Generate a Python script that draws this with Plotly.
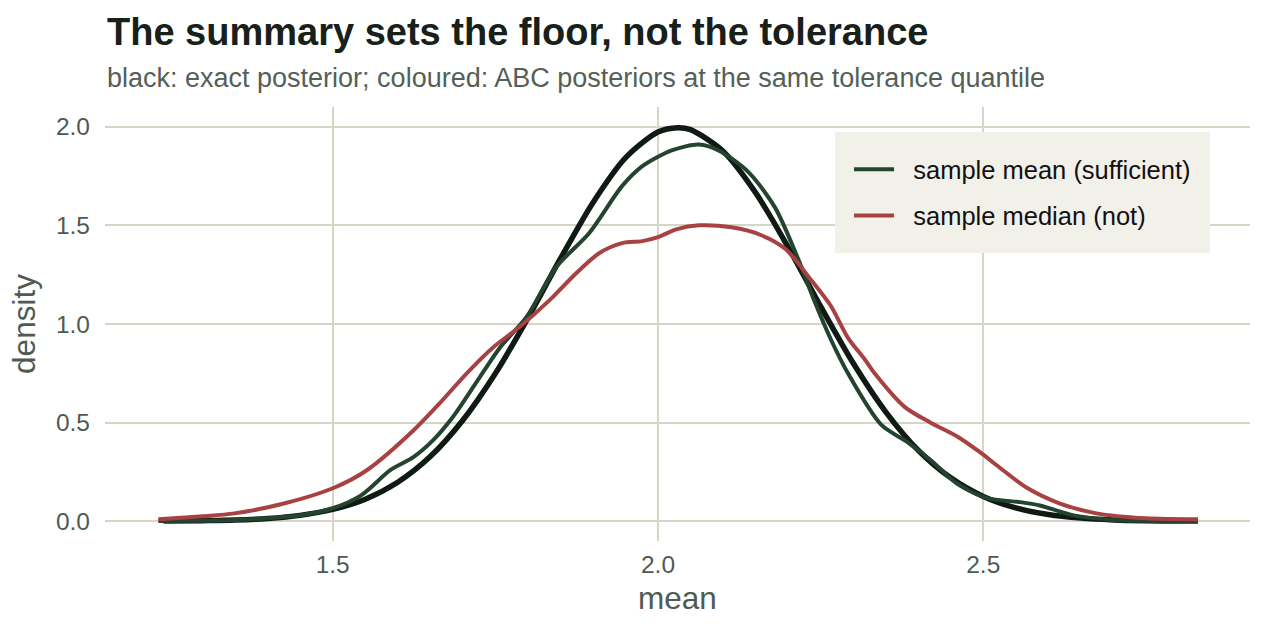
import plotly.graph_objects as go

# Exact posterior (black)
exact_x = [1.24, 1.30, 1.35, 1.40, 1.45, 1.50, 1.55, 1.60, 1.65, 1.70, 1.75, 1.80, 1.85, 1.90,
           1.95, 2.00, 2.03, 2.05, 2.10, 2.15, 2.20, 2.25, 2.30, 2.35, 2.40, 2.45, 2.50, 2.55,
           2.60, 2.65, 2.70, 2.75, 2.80, 2.83]
exact_y = [0.001, 0.003, 0.006, 0.014, 0.030, 0.060, 0.112, 0.198, 0.328, 0.512, 0.749, 1.030,
           1.331, 1.615, 1.842, 1.973, 1.995, 1.985, 1.876, 1.666, 1.390, 1.089, 0.802, 0.555,
           0.360, 0.220, 0.126, 0.068, 0.034, 0.016, 0.007, 0.003, 0.001, 0.001]

# ABC with sample mean (green)
mean_x = [1.232, 1.30, 1.35, 1.40, 1.45, 1.50, 1.543, 1.589, 1.624, 1.654, 1.685, 1.72, 1.757,
          1.798, 1.844, 1.894, 1.945, 1.976, 2.021, 2.063, 2.093, 2.139, 2.18, 2.216, 2.24,
          2.266, 2.292, 2.343, 2.384, 2.419, 2.46, 2.506, 2.557, 2.587, 2.639, 2.70, 2.76, 2.83]
mean_y = [0.001, 0.003, 0.007, 0.015, 0.030, 0.066, 0.13, 0.26, 0.325, 0.41, 0.53, 0.70, 0.88,
          1.036, 1.29, 1.46, 1.70, 1.80, 1.88, 1.91, 1.88, 1.77, 1.59, 1.325, 1.12,
          0.92, 0.75, 0.49, 0.40, 0.31, 0.19, 0.117, 0.097, 0.08, 0.03, 0.007, 0.002, 0.001]

# ABC with sample median (red)
median_x = [1.232, 1.30, 1.349, 1.425, 1.502, 1.553, 1.624, 1.665, 1.706, 1.746, 1.787, 1.833,
            1.875, 1.91, 1.945, 1.976, 2.0, 2.028, 2.063, 2.113, 2.159, 2.196, 2.236, 2.266,
            2.292, 2.318, 2.333, 2.379, 2.419, 2.46, 2.495, 2.526, 2.567, 2.618, 2.674, 2.75, 2.83]
median_y = [0.01, 0.025, 0.04, 0.09, 0.17, 0.26, 0.46, 0.60, 0.75, 0.88, 0.985, 1.12,
            1.26, 1.36, 1.41, 1.42, 1.44, 1.48, 1.50, 1.49, 1.45, 1.38, 1.22, 1.09,
            0.93, 0.82, 0.75, 0.58, 0.50, 0.43, 0.35, 0.27, 0.17, 0.09, 0.04, 0.015, 0.01]

x_ticks = [1.5, 2.0, 2.5]
x_tick_labels = ["1.5", "2.0", "2.5"]
y_ticks = [0.0, 0.5, 1.0, 1.5, 2.0]
y_tick_labels = ["0.0", "0.5", "1.0", "1.5", "2.0"]

FONT = "Liberation Sans, Arial, Helvetica, sans-serif"
GRID = "#d6d6c6"
TXT = "#4f5a52"

fig = go.Figure()
fig.add_trace(go.Scatter(x=exact_x, y=exact_y, mode="lines", name="exact posterior",
                         line=dict(color="#101a15", width=5.5, shape="spline", smoothing=0.8),
                         showlegend=False))
fig.add_trace(go.Scatter(x=mean_x, y=mean_y, mode="lines", name="  sample mean (sufficient)",
                         line=dict(color="#23442f", width=4, shape="spline", smoothing=0.8),
                         legendgroup="a"))
fig.add_trace(go.Scatter(x=median_x, y=median_y, mode="lines", name="  sample median (not)",
                         line=dict(color="#a84242", width=4, shape="spline", smoothing=0.8),
                         legendgroup="b"))

fig.update_layout(
    width=1267, height=633,
    margin=dict(l=105, r=17, t=107, b=92),
    paper_bgcolor="white", plot_bgcolor="white",
    font=dict(family=FONT, color=TXT),
    xaxis=dict(range=[1.15, 2.91], tickvals=x_ticks, ticktext=x_tick_labels,
               showgrid=True, gridcolor=GRID, gridwidth=1.5, zeroline=False,
               showline=False, ticks="", tickfont=dict(size=24.5, color=TXT),
               ticklabelstandoff=6,
               title=dict(text="mean", font=dict(size=31.5, color=TXT), standoff=10)),
    yaxis=dict(range=[-0.1, 2.1], tickvals=y_ticks, ticktext=y_tick_labels,
               showgrid=True, gridcolor=GRID, gridwidth=1.5, zeroline=False,
               showline=False, ticks="", tickfont=dict(size=24.5, color=TXT),
               ticklabelstandoff=14,
               title=dict(text="density", font=dict(size=31.5, color=TXT), standoff=10)),
    legend=dict(x=0.6376, y=0.942, xanchor="left", yanchor="top",
                bgcolor="#f1f0e9", bordercolor="#f1f0e9", borderwidth=14,
                font=dict(size=25.5, color="#111111"), tracegroupgap=10,
                itemwidth=40),
    annotations=[
        dict(text="<b>The summary sets the floor, not the tolerance</b>", xref="paper", yref="paper",
             x=0, y=1.173, xanchor="left", yanchor="middle", showarrow=False,
             font=dict(size=38, color="#172019")),
        dict(text="black: exact posterior; coloured: ABC posteriors at the same tolerance quantile",
             xref="paper", yref="paper", x=0, y=1.067, xanchor="left", yanchor="middle",
             showarrow=False, font=dict(size=27, color="#555f57")),
    ],
)

fig.write_html("out.html")
